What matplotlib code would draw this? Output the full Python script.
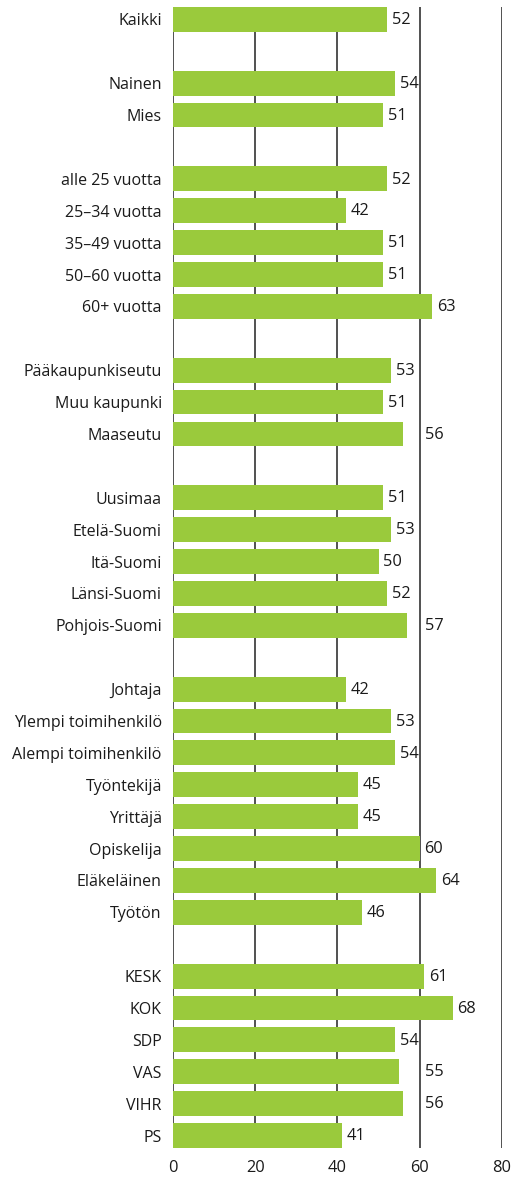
import matplotlib.pyplot as plt
import numpy as np

# groups of respondents, separated by an empty row in the chart
groups = [
    ["Kaikki"],
    ["Nainen", "Mies"],
    ["alle 25 vuotta", "25–34 vuotta", "35–49 vuotta", "50–60 vuotta", "60+ vuotta"],
    ["Pääkaupunkiseutu", "Muu kaupunki", "Maaseutu"],
    ["Uusimaa", "Etelä-Suomi", "Itä-Suomi", "Länsi-Suomi", "Pohjois-Suomi"],
    ["Johtaja", "Ylempi toimihenkilö", "Alempi toimihenkilö", "Työntekijä",
     "Yrittäjä", "Opiskelija", "Eläkeläinen", "Työtön"],
    ["KESK", "KOK", "SDP", "VAS", "VIHR", "PS"],
]
group_values = [
    [52],
    [54, 51],
    [52, 42, 51, 51, 63],
    [53, 51, 56],
    [51, 53, 50, 52, 57],
    [42, 53, 54, 45, 45, 60, 64, 46],
    [61, 68, 54, 55, 56, 41],
]
xticks = [0, 20, 40, 60, 80]

plt.rcParams["font.family"] = ["Open Sans", "DejaVu Sans"]

labels, values, rows = [], [], []
row = 0
for names, vals in zip(groups, group_values):
    for n, v in zip(names, vals):
        labels.append(n)
        values.append(v)
        rows.append(row)
        row += 1
    row += 1
rows = np.array(rows)
bar_h = 0.78

fig = plt.figure(figsize=(5.21, 11.78), dpi=100)
ax = fig.add_axes([0.332, 0.0255, 0.6315, 0.9686])

for x in xticks:
    ax.axvline(x, color="#333333", linewidth=1.2, zorder=1)

ax.barh(rows, values, height=bar_h, color="#9aca3c", zorder=2)

for r, v in zip(rows, values):
    # labels that would run into the 60 line are moved past it
    lx = 60 if 55 <= v < 60 else v
    ax.annotate(str(v), (lx, r), xytext=(3.5, -0.5), textcoords="offset points",
                va="center", ha="left", fontsize=11.8, color="#1a1a1a")

ax.set_xlim(0, 80)
ax.set_ylim(rows[-1] + bar_h / 2, -bar_h / 2)
ax.set_yticks(rows)
ax.set_yticklabels(labels, fontsize=11.5, color="#1a1a1a")
ax.set_xticks(xticks)
ax.set_xticklabels([str(t) for t in xticks], fontsize=11.8, color="#1a1a1a")
ax.tick_params(length=0, axis="y", pad=8)
ax.tick_params(length=0, axis="x", pad=9)
for s in ax.spines.values():
    s.set_visible(False)

fig.savefig("out.png", dpi=100)
